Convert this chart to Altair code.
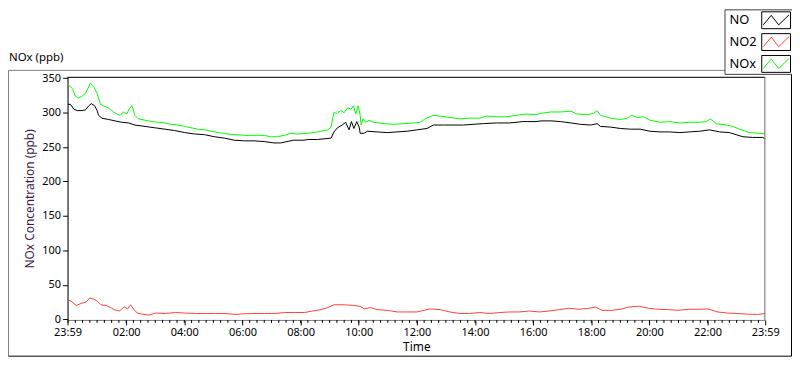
import altair as alt
import pandas as pd

# ---- data (minutes after 23:59, ppb) ----
NO_t = [1, 6, 13, 20, 30, 37, 44, 49, 56, 61, 64, 71, 85, 98, 112, 126, 139, 160, 180, 201,
        221, 242, 262, 283, 303, 324, 344, 365, 385, 406, 426, 440, 453, 467, 488, 496, 516, 544,
        550, 557, 567, 574, 581, 586, 591, 597, 602, 604, 612, 619, 639, 660, 680, 701, 721, 742,
        755, 776, 796, 817, 837, 858, 885, 912, 940, 967, 977, 998, 1018, 1039, 1059, 1080, 1093,
        1100, 1121, 1141, 1162, 1182, 1202, 1223, 1243, 1264, 1284, 1305, 1325, 1346, 1366, 1380,
        1394, 1414, 1435, 1440]
NO_v = [312, 312, 305, 303, 303, 304, 310, 313, 310, 303, 296, 292, 290, 288, 286, 285, 282, 280,
        278, 276, 274, 271, 269, 268, 265, 263, 260, 259, 259, 258, 256, 256, 258, 260, 260, 261,
        261, 263, 272, 278, 282, 286, 275, 287, 277, 287, 279, 270, 270, 273, 272, 271, 272, 273,
        275, 277, 282, 282, 282, 282, 283, 284, 285, 285, 287, 287, 288, 288, 287, 285, 283, 282,
        284, 280, 279, 277, 276, 276, 273, 272, 272, 271, 272, 273, 275, 272, 271, 268, 265, 264,
        264, 262]

NO2_t = [1, 8, 18, 28, 38, 46, 55, 62, 69, 79, 89, 96, 107, 117, 124, 130, 137, 144, 154, 168,
         182, 202, 223, 243, 264, 284, 305, 325, 346, 366, 387, 407, 428, 448, 469, 489, 503, 523,
         537, 550, 571, 591, 605, 612, 625, 639, 660, 680, 701, 721, 748, 769, 789, 810, 830, 851,
         871, 892, 912, 933, 953, 974, 994, 1015, 1035, 1056, 1076, 1090, 1103, 1124, 1144, 1158,
         1179, 1199, 1219, 1240, 1260, 1281, 1301, 1322, 1342, 1363, 1383, 1404, 1424, 1440]
NO2_v = [28, 26, 20, 23, 25, 31, 29, 26, 21, 20, 17, 14, 12, 18, 15, 21, 14, 9, 7.4, 6,
         9, 8.4, 9.8, 9, 8.4, 8.4, 8.4, 8.4, 7, 8, 8.4, 8.4, 8.4, 9.8, 9.8, 9.8, 11.6, 14,
         17, 21, 21, 20, 18.6, 15, 17, 14, 13, 10.6, 10.6, 10.6, 15, 14, 10.6, 8.4, 8.4, 9.8,
         8.4, 9.8, 10.6, 10.6, 12, 10.6, 12, 14, 16, 14.5, 16, 17.7, 13, 13, 15, 17.7,
         19, 16, 14.5, 14, 13, 14.5, 14.5, 15, 10.6, 9, 8.4, 7.4, 7, 8.4]

NOx_t = [1, 10, 16, 23, 30, 37, 42, 47, 54, 61, 68, 74, 81, 88, 95, 102, 109, 115, 122, 129,
         133, 139, 146, 160, 174, 187, 201, 214, 228, 242, 255, 269, 283, 296, 310, 324, 337, 351,
         365, 378, 392, 406, 419, 433, 447, 460, 474, 496, 516, 537, 544, 547, 550, 557, 564, 571,
         578, 585, 590, 595, 600, 604, 606, 610, 615, 622, 632, 653, 673, 694, 714, 728, 738, 748,
         755, 769, 789, 810, 830, 851, 864, 885, 905, 926, 946, 967, 977, 998, 1018, 1039, 1052,
         1073, 1086, 1093, 1100, 1121, 1141, 1155, 1165, 1175, 1189, 1202, 1223, 1243, 1264, 1284,
         1305, 1319, 1327, 1339, 1360, 1373, 1387, 1407, 1428, 1440]
NOx_v = [341, 335, 324, 321, 324, 328, 335, 343, 338, 328, 312, 310, 308, 305, 301, 298, 296, 301,
         298, 307, 310, 296, 291, 289, 287, 286, 285, 283, 282, 280, 278, 276, 275, 273, 271, 270,
         268, 268, 267, 267, 267, 267, 265, 265, 267, 270, 269, 270, 272, 275, 279, 291, 300, 299,
         303, 300, 307, 305, 310, 298, 310, 296, 282, 291, 286, 289, 286, 284, 283, 284, 285, 286,
         291, 294, 296, 295, 293, 291, 292, 292, 295, 294, 294, 296, 298, 297, 299, 301, 301, 302,
         298, 297, 299, 303, 296, 292, 290, 292, 296, 293, 294, 289, 286, 287, 285, 286, 286, 287,
         291, 284, 282, 280, 276, 271, 270, 269]

SERIES = ["NO", "NO2", "NOx"]
COLORS = ["#000000", "#ff4040", "#00ff00"]
X_LABEL_VALUES = [0, 121, 241, 361, 481, 601, 721, 841, 961, 1081, 1201, 1321, 1440]
Y_TICKS = [0, 50, 100, 150, 200, 250, 300, 350]
MINOR_TICKS = [1 + 15 * k for k in range(96)]

rows = []
for name, ts, vs in [("NO", NO_t, NO_v), ("NO2", NO2_t, NO2_v), ("NOx", NOx_t, NOx_v)]:
    for t, v in zip(ts, vs):
        rows.append({"t": t, "v": v, "series": name})
df = pd.DataFrame(rows)

W, H = 703, 245
FONT = "Noto Sans"

xscale = alt.Scale(domain=[0, 1440], nice=False, zero=False)
xaxis = alt.Axis(
    values=X_LABEL_VALUES,
    labelExpr="timeFormat(datetime(2000, 0, 1, 23, 59 + datum.value), '%H:%M')",
    title="Time", tickSize=5, labelPadding=2, domainColor="#808080", tickColor="#000000",
    grid=False, labelFontSize=11, titleFontSize=12, titlePadding=4, titleFontWeight="normal",
    labelFlush=False, labelOverlap=False, labelColor="#000000", titleColor="#000000",
    labelFont=FONT, titleFont=FONT,
)
yaxis = alt.Axis(
    values=Y_TICKS, title="NOx Concentration (ppb)", tickSize=5, labelPadding=2,
    domainColor="#000000", tickColor="#000000", grid=False, labelFontSize=11,
    titleFontSize=12, titleFontWeight="normal", titlePadding=5, labelColor="#000000",
    titleColor="#3c1e3c", labelFont=FONT, titleFont=FONT,
)

lines = alt.Chart(df).mark_line(strokeWidth=1).encode(
    x=alt.X("t:Q", scale=xscale, axis=xaxis),
    y=alt.Y("v:Q", scale=alt.Scale(domain=[-1, 352], nice=False, zero=False), axis=yaxis),
    color=alt.Color("series:N", scale=alt.Scale(domain=SERIES, range=COLORS), legend=None),
    detail="series:N",
)

minor = alt.Chart(pd.DataFrame({"t": MINOR_TICKS})).mark_rule(color="#000000", strokeWidth=1).encode(
    x=alt.X("t:Q", scale=xscale, axis=xaxis),
    y=alt.value(H),
    y2=alt.value(H + 3),
)

one = pd.DataFrame({"a": [0]})


def rule(x1, x2, y1, y2, color):
    return alt.Chart(one).mark_rule(color=color, strokeWidth=1).encode(
        x=alt.value(x1), x2=alt.value(x2), y=alt.value(y1), y2=alt.value(y2))


FB = 281.5  # frame bottom (view px)
layers = [
    rule(-59.5, 729.5, -6.5, -6.5, "#808080"),   # frame top
    rule(-59.5, -59.5, -6.5, FB, "#808080"),     # frame left
    rule(-59.5, 729.5, FB, FB, "#000000"),       # frame bottom
    rule(729.5, 729.5, -6.5, FB, "#000000"),     # frame right
    rule(0, W, 0.5, 0.5, "#000000"),             # plot top border
    rule(W - 0.5, W - 0.5, 0, H, "#808080"),     # plot right border
]

title = alt.Chart(one).mark_text(
    text="NOx (ppb)", align="left", baseline="middle", fontSize=11.5, font=FONT, color="#000000"
).encode(x=alt.value(-59), y=alt.value(-19))

legend_box = alt.Chart(one).mark_rect(fill="white", stroke="#404040", strokeWidth=1).encode(
    x=alt.value(662.5), x2=alt.value(730.5), y=alt.value(-67.5), y2=alt.value(-2.5))

legend_layers = [legend_box]
ZIG = "M-1,0.36L-0.38,-0.38L0.2,0.36L1,-0.42"
for i, (name, col) in enumerate(zip(SERIES, COLORS)):
    cy = -57 + 22 * i
    legend_layers.append(
        alt.Chart(one).mark_text(text=name, align="left", baseline="middle", fontSize=13,
                                 font=FONT, color="#000000")
        .encode(x=alt.value(667), y=alt.value(cy)))
    legend_layers.append(
        alt.Chart(one).mark_rect(fill="white", stroke="#000000", strokeWidth=1)
        .encode(x=alt.value(699.5), x2=alt.value(728.5), y=alt.value(cy - 8.5), y2=alt.value(cy + 8.5)))
    legend_layers.append(
        alt.Chart(one).mark_point(shape=ZIG, filled=False, size=676, opacity=1, strokeWidth=1, color=col)
        .encode(x=alt.value(714), y=alt.value(cy)))

chart = alt.layer(lines, minor, *layers, title, *legend_layers).properties(
    width=W, height=H,
    autosize=alt.AutoSizeParams(type="none"),
    padding={"left": 60, "top": 68, "right": 27, "bottom": 38},
).configure_view(stroke=None).configure(font=FONT, background="white")

chart.save("out.html", embed_options={"renderer": "svg", "actions": False})
